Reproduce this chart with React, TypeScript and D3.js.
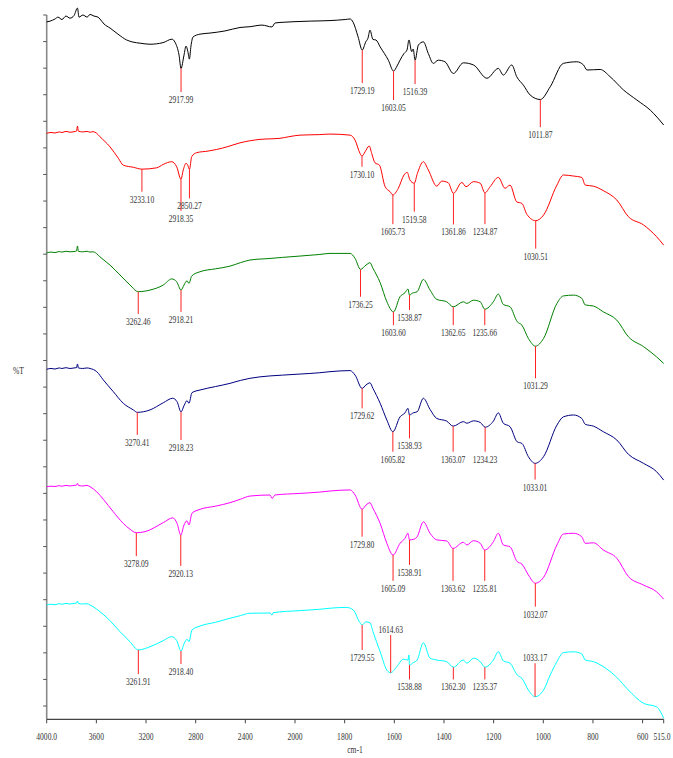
import React from 'react';
import * as d3 from 'd3';

type Pt = [number, number];
type Peak = { wn: number; level: number; side?: 'above' | 'below' };

// Wavenumber (cm-1) vs. stacked %T (one y unit = one minor tick)
const sample1: Pt[] = [
  [4000, 25.74], [3973, 25.77], [3933, 25.85], [3909, 25.92], [3877, 25.83], [3845, 25.96], [3812, 25.88],
  [3780, 25.98], [3752, 26.26], [3740, 25.92], [3708, 26.0], [3675, 25.92], [3651, 26.02], [3619, 25.96],
  [3587, 25.92], [3571, 25.85], [3538, 25.66], [3490, 25.51], [3426, 25.28], [3356, 25.06], [3305, 24.98],
  [3248, 24.94], [3168, 24.9], [3063, 24.96], [2991, 25.09], [2967, 24.98], [2934, 24.49], [2917.99, 23.99],
  [2894, 24.49], [2878, 24.83], [2862, 24.6], [2851, 24.34], [2838, 24.83], [2822, 25.17], [2765, 25.28],
  [2685, 25.32], [2564, 25.4], [2443, 25.53], [2363, 25.56], [2266, 25.62], [2185, 25.55], [2161, 25.7],
  [2081, 25.73], [2000, 25.75], [1939, 25.77], [1859, 25.79], [1798, 25.83], [1778, 25.85], [1766, 25.73],
  [1746, 25.18], [1729.19, 24.68], [1715, 24.99], [1706, 25.13], [1698, 25.43], [1686, 25.08], [1674, 25.06],
  [1657, 24.8], [1624, 24.3], [1603.05, 23.89], [1589, 24.08], [1577, 24.3], [1561, 24.55], [1549, 24.68],
  [1541, 25.06], [1530, 24.62], [1524, 24.72], [1516.39, 24.3], [1503, 24.87], [1483, 24.99], [1463, 24.55],
  [1443, 24.18], [1423, 24.3], [1396, 24.24], [1362, 23.8], [1322, 24.2], [1281, 24.12], [1227, 23.62],
  [1181, 23.99], [1161, 23.74], [1127, 24.12], [1107, 23.68], [1080, 23.36], [1053, 22.99], [1011.87, 22.82],
  [972, 23.3], [919, 24.18], [865, 24.24], [838, 24.12], [824, 23.93], [771, 23.95], [731, 23.68], [677, 23.18],
  [623, 22.8], [569, 22.42], [515, 21.86],
];

const sample2: Pt[] = [
  [4000, 21.55], [3965, 21.58], [3933, 21.56], [3900, 21.6], [3877, 21.58], [3845, 21.62], [3812, 21.59],
  [3780, 21.61], [3760, 21.63], [3752, 21.82], [3745, 21.63], [3710, 21.6], [3675, 21.62], [3651, 21.59],
  [3627, 21.61], [3600, 21.56], [3571, 21.42], [3490, 21.04], [3423, 20.61], [3383, 20.35], [3302, 20.27],
  [3233.1, 20.2], [3114, 20.25], [3061, 20.38], [2993, 20.48], [2953, 20.29], [2918.35, 19.82], [2900, 20.17],
  [2878, 20.42], [2864, 20.35], [2850.27, 20.19], [2832, 20.67], [2792, 20.82], [2700, 20.88], [2631, 20.94],
  [2540, 21.05], [2443, 21.19], [2360, 21.27], [2282, 21.32], [2200, 21.34], [2121, 21.36], [2050, 21.42],
  [1980, 21.48], [1900, 21.5], [1859, 21.52], [1778, 21.48], [1758, 21.29], [1738, 20.79], [1730.1, 20.69],
  [1718, 20.85], [1701, 21.07], [1691, 20.79], [1678, 20.44], [1660, 20.35], [1637, 19.54], [1617, 19.35],
  [1605.73, 19.23], [1584, 19.48], [1561, 19.98], [1548, 20.08], [1537, 19.79], [1519.58, 19.67], [1507, 20.04],
  [1483, 20.48], [1463, 20.17], [1429, 19.56], [1409, 19.75], [1383, 19.69], [1361.86, 19.29], [1328, 19.7],
  [1311, 19.54], [1281, 19.73], [1254, 19.67], [1234.87, 19.31], [1214, 19.54], [1181, 19.89], [1154, 19.48],
  [1134, 19.6], [1107, 18.97], [1086, 18.91], [1066, 18.5], [1030.51, 18.26], [999, 18.47], [945, 19.6],
  [919, 19.98], [878, 19.94], [845, 19.89], [831, 19.6], [798, 19.56], [758, 19.39], [704, 19.04], [657, 18.41],
  [596, 18.1], [544, 17.66], [515, 17.34],
];

const sample3: Pt[] = [
  [4000, 17.05], [3965, 17.08], [3933, 17.06], [3900, 17.1], [3877, 17.08], [3845, 17.11], [3812, 17.09],
  [3780, 17.1], [3760, 17.12], [3752, 17.31], [3745, 17.11], [3710, 17.09], [3675, 17.11], [3651, 17.08],
  [3627, 17.09], [3600, 17.03], [3571, 16.9], [3490, 16.59], [3410, 16.22], [3329, 15.84], [3262.46, 15.59],
  [3168, 15.65], [3061, 15.84], [2993, 16.07], [2953, 15.96], [2918.21, 15.65], [2894, 15.84], [2870, 16.0],
  [2854, 15.9], [2832, 16.18], [2765, 16.34], [2640, 16.45], [2524, 16.55], [2440, 16.68], [2363, 16.78],
  [2201, 16.84], [2100, 16.88], [1980, 16.93], [1900, 16.99], [1859, 17.03], [1778, 17.03], [1758, 16.84],
  [1736.25, 16.43], [1714, 16.59], [1698, 16.68], [1686, 16.47], [1657, 15.93], [1630, 15.21], [1603.6, 14.83],
  [1577, 15.4], [1557, 15.55], [1545, 15.69], [1538.87, 15.46], [1528, 15.53], [1508, 15.59], [1483, 16.05],
  [1456, 15.65], [1429, 15.3], [1389, 15.21], [1362.65, 15.02], [1322, 15.21], [1308, 15.15], [1281, 15.27],
  [1254, 15.21], [1235.66, 14.93], [1201, 15.21], [1181, 15.5], [1161, 15.11], [1134, 15.02], [1105, 14.46],
  [1086, 14.33], [1060, 13.83], [1031.29, 13.54], [999, 13.83], [945, 15.15], [919, 15.43], [878, 15.46],
  [845, 15.34], [831, 15.09], [798, 15.05], [758, 14.83], [704, 14.52], [657, 13.89], [596, 13.52], [544, 13.14],
  [515, 12.89],
];

const sample4: Pt[] = [
  [4000, 12.67], [3965, 12.7], [3933, 12.68], [3900, 12.72], [3877, 12.7], [3845, 12.73], [3812, 12.7],
  [3780, 12.72], [3760, 12.73], [3752, 12.87], [3745, 12.72], [3710, 12.7], [3675, 12.72], [3651, 12.7],
  [3597, 12.58], [3544, 12.27], [3464, 11.83], [3383, 11.39], [3302, 11.14], [3270.41, 11.05], [3168, 11.14],
  [3061, 11.41], [2985, 11.58], [2950, 11.45], [2918.23, 11.07], [2892, 11.32], [2870, 11.49], [2854, 11.39],
  [2830, 11.79], [2765, 11.89], [2640, 12.02], [2524, 12.14], [2440, 12.25], [2363, 12.33], [2201, 12.42],
  [2100, 12.45], [1980, 12.49], [1900, 12.54], [1859, 12.58], [1778, 12.62], [1758, 12.45], [1729.62, 11.95],
  [1714, 12.08], [1698, 12.16], [1686, 11.95], [1657, 11.39], [1630, 10.76], [1605.82, 10.32], [1577, 10.88],
  [1557, 11.03], [1545, 11.2], [1538.93, 10.95], [1524, 11.03], [1508, 11.07], [1483, 11.58], [1456, 11.16],
  [1429, 10.82], [1389, 10.72], [1363.07, 10.53], [1322, 10.7], [1308, 10.64], [1281, 10.73], [1254, 10.67],
  [1234.23, 10.49], [1201, 10.72], [1181, 11.03], [1161, 10.64], [1134, 10.51], [1105, 9.94], [1086, 9.88],
  [1060, 9.38], [1033.01, 9.13], [999, 9.38], [945, 10.57], [919, 10.88], [878, 10.95], [845, 10.82],
  [831, 10.6], [798, 10.53], [758, 10.32], [704, 10.01], [657, 9.47], [596, 9.13], [544, 8.82], [515, 8.5],
];

const sample5: Pt[] = [
  [4000, 8.25], [3965, 8.27], [3933, 8.26], [3900, 8.29], [3877, 8.27], [3845, 8.3], [3812, 8.28],
  [3780, 8.3], [3760, 8.31], [3752, 8.38], [3745, 8.3], [3710, 8.28], [3675, 8.3], [3651, 8.25],
  [3597, 8.06], [3544, 7.78], [3464, 7.31], [3383, 6.87], [3329, 6.65], [3278.09, 6.52], [3208, 6.56],
  [3061, 6.9], [2985, 7.08], [2950, 6.87], [2920.13, 6.43], [2894, 6.81], [2870, 6.97], [2854, 6.81],
  [2830, 7.25], [2765, 7.4], [2640, 7.52], [2524, 7.65], [2440, 7.78], [2363, 7.9], [2201, 7.94],
  [2185, 7.81], [2161, 7.94], [1980, 8.0], [1900, 8.05], [1859, 8.09], [1778, 8.13], [1758, 7.94],
  [1729.8, 7.4], [1714, 7.56], [1698, 7.65], [1686, 7.44], [1657, 6.87], [1630, 6.12], [1605.09, 5.68],
  [1577, 6.12], [1557, 6.31], [1545, 6.5], [1538.91, 6.25], [1524, 6.27], [1508, 6.37], [1483, 6.93],
  [1456, 6.5], [1429, 6.25], [1389, 6.21], [1363.62, 5.93], [1322, 6.16], [1308, 6.06], [1281, 6.22],
  [1254, 6.12], [1235.81, 5.87], [1201, 6.18], [1181, 6.5], [1161, 6.06], [1134, 5.99], [1105, 5.43],
  [1086, 5.34], [1060, 4.93], [1032.07, 4.62], [999, 4.84], [945, 6.06], [919, 6.47], [878, 6.5],
  [845, 6.37], [831, 6.12], [798, 6.14], [758, 5.87], [704, 5.56], [657, 4.87], [596, 4.55], [544, 4.3],
  [515, 4.02],
];

const sample6: Pt[] = [
  [4000, 3.8], [3965, 3.83], [3933, 3.81], [3900, 3.85], [3877, 3.83], [3845, 3.86], [3812, 3.84],
  [3780, 3.86], [3760, 3.87], [3752, 3.95], [3745, 3.86], [3710, 3.84], [3675, 3.85], [3651, 3.8],
  [3627, 3.74], [3571, 3.55], [3490, 3.21], [3410, 2.8], [3329, 2.42], [3261.91, 2.11], [3168, 2.23],
  [3061, 2.46], [2993, 2.61], [2953, 2.46], [2918.4, 2.07], [2892, 2.36], [2870, 2.51], [2854, 2.42],
  [2830, 2.86], [2765, 3.01], [2640, 3.15], [2524, 3.3], [2440, 3.4], [2363, 3.49], [2201, 3.5],
  [2185, 3.42], [2177, 3.51], [1980, 3.59], [1900, 3.64], [1859, 3.68], [1792, 3.71], [1765, 3.61],
  [1738, 3.13], [1729.55, 3.05], [1714, 3.17], [1698, 3.13], [1686, 2.8], [1657, 2.04], [1630, 1.35],
  [1614.63, 1.25], [1590, 1.48], [1564, 1.76], [1545, 1.73], [1541, 1.92], [1538.88, 1.54], [1524, 1.63],
  [1508, 1.73], [1483, 2.38], [1456, 1.8], [1429, 1.73], [1389, 1.67], [1362.3, 1.46], [1322, 1.73],
  [1308, 1.61], [1281, 1.8], [1254, 1.67], [1235.37, 1.46], [1201, 1.73], [1181, 2.04], [1161, 1.7],
  [1134, 1.61], [1105, 1.17], [1086, 1.04], [1060, 0.6], [1033.17, 0.35], [999, 0.6], [972, 1.17],
  [945, 1.67], [919, 2.01], [878, 2.04], [845, 1.96], [831, 1.73], [798, 1.67], [758, 1.48], [704, 1.08],
  [657, 0.6], [596, 0.1], [544, -0.03], [515, -0.46],
];

// Band assignments: wavenumber and the %T level where the leader line ends
const peaks1: Peak[] = [
  { wn: 2917.99, level: 23.1 }, { wn: 1729.19, level: 23.44 }, { wn: 1603.05, level: 22.8 },
  { wn: 1516.39, level: 23.4 }, { wn: 1011.87, level: 21.78 },
];
const peaks2: Peak[] = [
  { wn: 3233.1, level: 19.35 }, { wn: 2918.35, level: 18.63 }, { wn: 2850.27, level: 19.1 },
  { wn: 1730.1, level: 20.29 }, { wn: 1605.73, level: 18.13 }, { wn: 1519.58, level: 18.6 },
  { wn: 1361.86, level: 18.12 }, { wn: 1234.87, level: 18.13 }, { wn: 1030.51, level: 17.21 },
];
const peaks3: Peak[] = [
  { wn: 3262.46, level: 14.75 }, { wn: 2918.21, level: 14.83 }, { wn: 1736.25, level: 15.4 },
  { wn: 1603.6, level: 14.33 }, { wn: 1538.87, level: 14.9 }, { wn: 1362.65, level: 14.33 },
  { wn: 1235.66, level: 14.33 }, { wn: 1031.29, level: 12.33 },
];
const peaks4: Peak[] = [
  { wn: 3270.41, level: 10.2 }, { wn: 2918.23, level: 10.01 }, { wn: 1729.62, level: 11.2 },
  { wn: 1605.82, level: 9.57 }, { wn: 1538.93, level: 10.07 }, { wn: 1363.07, level: 9.57 },
  { wn: 1234.23, level: 9.57 }, { wn: 1033.01, level: 8.52 },
];
const peaks5: Peak[] = [
  { wn: 3278.09, level: 5.64 }, { wn: 2920.13, level: 5.27 }, { wn: 1729.8, level: 6.37 },
  { wn: 1605.09, level: 4.71 }, { wn: 1538.91, level: 5.31 }, { wn: 1363.62, level: 4.71 },
  { wn: 1235.81, level: 4.71 }, { wn: 1032.07, level: 3.74 },
];
const peaks6: Peak[] = [
  { wn: 3261.91, level: 1.2 }, { wn: 2918.4, level: 1.58 }, { wn: 1729.55, level: 2.11 },
  { wn: 1614.63, level: 2.67, side: 'above' }, { wn: 1538.88, level: 1.0 }, { wn: 1362.3, level: 1.0 },
  { wn: 1235.37, level: 1.0 }, { wn: 1033.17, level: 1.61, side: 'above' },
];

const xTicks = [4000, 3600, 3200, 2800, 2400, 2000, 1800, 1600, 1400, 1200, 1000, 800, 600, 515];
const xTickLabels = ['4000.0', '3600', '3200', '2800', '2400', '2000', '1800', '1600', '1400', '1200', '1000', '800', '600', '515.0'];
const yTicks = d3.range(0, 27);

const series = [sample1, sample2, sample3, sample4, sample5, sample6];
const seriesPeaks = [peaks1, peaks2, peaks3, peaks4, peaks5, peaks6];
const seriesColors = ['#000000', '#ff0000', '#008000', '#000080', '#ff00ff', '#00ffff'];

const W = 673;
const H = 758;
const FONT = "'Liberation Serif', 'Times New Roman', serif";
const CONDENSE = 0.72;

function valueAt(data: Pt[], wn: number): number {
  for (let i = 0; i < data.length - 1; i++) {
    const [w0, v0] = data[i];
    const [w1, v1] = data[i + 1];
    if (wn <= w0 && wn >= w1) {
      const t = w0 === w1 ? 0 : (w0 - wn) / (w0 - w1);
      return v0 + t * (v1 - v0);
    }
  }
  return data[data.length - 1][1];
}

// Narrow serif text, squeezed horizontally around its anchor point
function Narrow(props: { x: number; y: number; anchor?: 'start' | 'middle' | 'end'; children: React.ReactNode }) {
  return (
    <text
      transform={`translate(${props.x},${props.y}) scale(${CONDENSE},1)`}
      textAnchor={props.anchor || 'middle'}
      fontFamily={FONT}
      fontSize={10.5}
      fill="#333"
    >
      {props.children}
    </text>
  );
}

export default function App() {
  // Split wavenumber axis: 4000-2000 compressed, 2000-515 at double scale
  const x = d3.scaleLinear().domain([4000, 2000, 515]).range([46.7, 295, 663.7]);
  const y = d3.scaleLinear().domain([-0.5, 26]).range([719.3, 15]);
  const line = d3
    .line<Pt>()
    .x((d) => x(d[0]))
    .y((d) => y(d[1]))
    .curve(d3.curveMonotoneX);

  const x0 = x(4000);
  const x1 = x(515);
  const yBottom = y(-0.5);
  const yTop = y(26);

  return (
    <svg
      width={W}
      height={H}
      viewBox={`0 0 ${W} ${H}`}
      style={{ position: 'absolute', left: 0, top: 0, background: '#fff' }}
    >
      <rect width={W} height={H} fill="#fff" />

      {/* y axis */}
      <line x1={x0} x2={x0} y1={yTop} y2={yBottom} stroke="#8a8a8a" strokeWidth={1.6} />
      {yTicks.map((t) => (
        <line key={`yt${t}`} x1={x0 - 3.5} x2={x0} y1={y(t)} y2={y(t)} stroke="#555" strokeWidth={1} />
      ))}

      {/* x axis */}
      <line x1={x0} x2={x1} y1={yBottom} y2={yBottom} stroke="#444" strokeWidth={1.2} />
      {xTicks.map((t, i) => {
        const last = i === xTicks.length - 1;
        return (
          <g key={`xt${t}`}>
            <line x1={x(t)} x2={x(t)} y1={yBottom} y2={yBottom + 4} stroke="#444" strokeWidth={1} />
            <Narrow x={last ? W - 2.5 : x(t)} y={yBottom + 21} anchor={last ? 'end' : 'middle'}>
              {xTickLabels[i]}
            </Narrow>
          </g>
        );
      })}

      <Narrow x={18.5} y={373.5}>%T</Narrow>
      <Narrow x={355} y={753}>cm-1</Narrow>

      {/* spectra */}
      {series.map((data, i) => (
        <path key={`s${i}`} d={line(data) || ''} fill="none" stroke={seriesColors[i]} strokeWidth={1}
          strokeLinejoin="round" />
      ))}

      {/* band markers */}
      {seriesPeaks.map((peaks, i) =>
        peaks.map((p) => {
          const px = x(p.wn);
          const py = y(valueAt(series[i], p.wn));
          const ly = y(p.level);
          const above = p.side === 'above';
          return (
            <g key={`p${i}-${p.wn}`}>
              <line x1={px} x2={px} y1={py} y2={ly} stroke="#ff2020" strokeWidth={1} />
              <Narrow x={px} y={above ? ly - 2.5 : ly + 11}>{p.wn.toFixed(2)}</Narrow>
            </g>
          );
        })
      )}
    </svg>
  );
}
